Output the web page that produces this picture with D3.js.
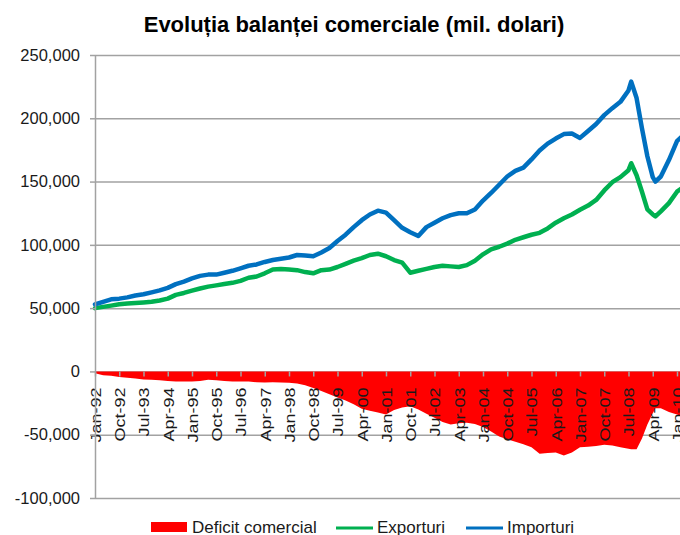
<!DOCTYPE html>
<html>
<head>
<meta charset="utf-8">
<script src="https://cdn.jsdelivr.net/npm/d3@7"></script>
<style>
  html, body { margin: 0; padding: 0; background: #fff; }
  svg { display: block; font-family: "Liberation Sans", Arial, sans-serif; }
</style>
</head>
<body>
<svg id="chart" width="680" height="535"></svg>
<script>
// ---------- data (millions of dollars) ----------
const dates = [
  "1992-01","1992-04","1992-07","1992-10","1993-01","1993-04","1993-07","1993-10",
  "1994-01","1994-04","1994-07","1994-10","1995-01","1995-04","1995-07","1995-10",
  "1996-01","1996-04","1996-07","1996-10","1997-01","1997-04","1997-07","1997-10",
  "1998-01","1998-04","1998-07","1998-10","1999-01","1999-04","1999-07","1999-10",
  "2000-01","2000-04","2000-07","2000-10","2001-01","2001-04","2001-07","2001-10",
  "2002-01","2002-04","2002-07","2002-10","2003-01","2003-04","2003-07","2003-10",
  "2004-01","2004-04","2004-07","2004-10","2005-01","2005-04","2005-07","2005-10",
  "2006-01","2006-04","2006-07","2006-10","2007-01","2007-04","2007-07","2007-10",
  "2008-01","2008-04","2008-07","2008-08","2008-10","2008-12","2009-02","2009-04",
  "2009-05","2009-07","2009-10","2010-01","2010-03"
];
const importuri = [
  53000,55000,57000,57500,58500,60000,61000,62500,
  64000,66000,69000,71000,73500,75500,76500,76500,
  78000,79500,81500,83500,84500,86500,88000,89000,
  90000,92000,91500,91000,94000,97500,103000,108000,
  114000,119500,124000,127000,125500,119500,113500,110000,
  107000,114000,117500,121000,123500,125000,125000,128000,
  135000,141000,147500,154000,158500,161000,167500,174500,
  180000,184000,187500,188000,184500,190000,195500,202500,
  208000,213000,222000,229000,216000,192000,170000,153500,
  150000,154000,167000,182000,186000
];
const exporturi = [
  50000,51000,52000,53000,53600,54000,54500,55000,
  56000,57500,60500,62000,63800,65500,67000,68000,
  69000,70000,71500,74000,75000,77500,80500,81000,
  80500,80000,78500,77500,80000,80500,82500,85000,
  87500,89500,92000,93000,91000,88000,86000,78000,
  79500,81000,82500,83500,83000,82500,84000,87500,
  92500,96500,98500,101000,104000,106000,108000,109500,
  113000,117500,121000,124000,127700,131000,135500,143000,
  149500,153500,159000,164500,155000,142000,128000,124000,
  122500,126500,133000,142000,145000
];
const deficit = [
  -1500,-3000,-3500,-4500,-5000,-5500,-6300,-6500,
  -7000,-7500,-8000,-8000,-8000,-7500,-6500,-7000,
  -7500,-8000,-8000,-8000,-8500,-8700,-8500,-8700,
  -9000,-9500,-11000,-13000,-15500,-18000,-20500,-23000,
  -26000,-29500,-31000,-32500,-34000,-30500,-28500,-27600,
  -30000,-33500,-36500,-40000,-42000,-41000,-40500,-41500,
  -44000,-47500,-51500,-53500,-55500,-57500,-60000,-65000,
  -64500,-64000,-66500,-64000,-60000,-59500,-59000,-58000,
  -58500,-60000,-61000,-61500,-61500,-53000,-42000,-33000,
  -29000,-29000,-32000,-34000,-36000
];
const tickLabels = [
  "Jan-92","Oct-92","Jul-93","Apr-94","Jan-95","Oct-95","Jul-96","Apr-97",
  "Jan-98","Oct-98","Jul-99","Apr-00","Jan-01","Oct-01","Jul-02","Apr-03",
  "Jan-04","Oct-04","Jul-05","Apr-06","Jan-07","Oct-07","Jul-08","Apr-09","Jan-10"
];
const yTicks = [-100000,-50000,0,50000,100000,150000,200000,250000];
const seriesNames = ["Deficit comercial","Exporturi","Importuri"];
const seriesColors = ["#FF0000","#00B050","#0070C0"];
const title = "Evoluția balanței comerciale (mil. dolari)";

// ---------- helpers ----------
const monIdx = s => { const [yy, mm] = s.split("-").map(Number); return (yy - 1992) * 12 + (mm - 1); };
const monNames = ["Jan","Feb","Mar","Apr","May","Jun","Jul","Aug","Sep","Oct","Nov","Dec"];
const labelIdx = l => { const [m, yy] = l.split("-"); const y4 = +yy < 50 ? 2000 + +yy : 1900 + +yy; return (y4 - 1992) * 12 + monNames.indexOf(m); };
const rows = dates.map((d, i) => ({ m: monIdx(d), imp: importuri[i], exp: exporturi[i], def: deficit[i] }));

const W = 680, H = 535;
const svg = d3.select("#chart");
const x = d3.scaleLinear().domain([0, 216]).range([95, 677]);
const y = d3.scaleLinear().domain([-100000, 250000]).range([498, 55]);
const gridCol = "#a2a2a2";
const fmt = d => (d < 0 ? "-" : "") + d3.format(",")(Math.abs(d));

// gridlines
const grid = svg.append("g").attr("transform", "translate(95,0)")
  .call(d3.axisLeft(y).tickValues(yTicks).tickSize(-(W - 95)).tickFormat(""));
grid.select(".domain").remove();
grid.selectAll("line").attr("stroke", gridCol).attr("stroke-width", 1.5);

// deficit area
svg.append("path").datum(rows)
  .attr("fill", seriesColors[0])
  .attr("d", d3.area().x(d => x(d.m)).y0(y(0)).y1(d => y(d.def)));

// x axis at zero
const xa = svg.append("g").attr("transform", `translate(0,${y(0)})`)
  .call(d3.axisBottom(x).tickValues(tickLabels.map(labelIdx)).tickSize(5).tickSizeOuter(0)
    .tickFormat((d, i) => tickLabels[i]));
xa.select(".domain").remove();
xa.selectAll("line").attr("stroke", gridCol).attr("stroke-width", 1.5);
xa.selectAll("text")
  .attr("transform", "rotate(-90) scale(1.2,1)")
  .attr("text-anchor", "end")
  .attr("x", -16 / 1.2).attr("y", 0).attr("dy", "0.36em")
  .attr("font-size", 15).attr("font-family", "Liberation Sans, Arial, sans-serif")
  .attr("fill", "#1a1a1a");

// lines
const lineExp = d3.line().x(d => x(d.m)).y(d => y(d.exp)).curve(d3.curveLinear);
const lineImp = d3.line().x(d => x(d.m)).y(d => y(d.imp)).curve(d3.curveLinear);
svg.append("path").datum(rows).attr("fill", "none").attr("stroke", seriesColors[1])
  .attr("stroke-width", 4.5).attr("stroke-linejoin", "round").attr("stroke-linecap", "round").attr("d", lineExp);
svg.append("path").datum(rows).attr("fill", "none").attr("stroke", seriesColors[2])
  .attr("stroke-width", 4.5).attr("stroke-linejoin", "round").attr("stroke-linecap", "round").attr("d", lineImp);

// y axis
const ya = svg.append("g").attr("transform", "translate(95,0)")
  .call(d3.axisLeft(y).tickValues(yTicks).tickSize(5).tickSizeOuter(0).tickPadding(10).tickFormat(fmt));
ya.select(".domain").attr("stroke", gridCol).attr("stroke-width", 1.5);
ya.selectAll("line").attr("stroke", gridCol).attr("stroke-width", 1.5);
ya.selectAll("text").attr("font-size", 16.5).attr("font-family", "Liberation Sans, Arial, sans-serif")
  .attr("fill", "#1a1a1a");

// title
svg.append("text").attr("x", 354).attr("y", 32).attr("text-anchor", "middle")
  .attr("font-size", 22).attr("font-weight", "bold").attr("fill", "#000").text(title);

// legend
const lg = svg.append("g");
lg.append("rect").attr("x", 151).attr("y", 522).attr("width", 36).attr("height", 10).attr("fill", seriesColors[0]);
lg.append("text").attr("x", 192).attr("y", 533).attr("font-size", 17).attr("fill", "#1a1a1a").text(seriesNames[0]);
lg.append("line").attr("x1", 336).attr("x2", 373).attr("y1", 528).attr("y2", 528)
  .attr("stroke", seriesColors[1]).attr("stroke-width", 3);
lg.append("text").attr("x", 377).attr("y", 533).attr("font-size", 17).attr("fill", "#1a1a1a").text(seriesNames[1]);
lg.append("line").attr("x1", 466).attr("x2", 503).attr("y1", 528).attr("y2", 528)
  .attr("stroke", seriesColors[2]).attr("stroke-width", 3);
lg.append("text").attr("x", 507).attr("y", 533).attr("font-size", 17).attr("fill", "#1a1a1a").text(seriesNames[2]);
</script>
</body>
</html>
